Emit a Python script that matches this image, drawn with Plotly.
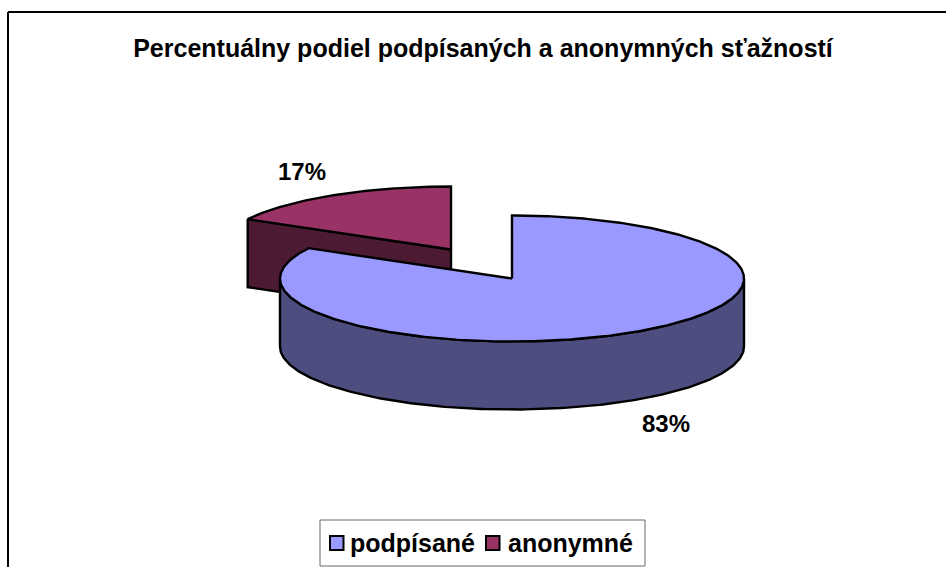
import numpy as np
import plotly.graph_objects as go

categories = ["podpísané", "anonymné"]
values = [83, 17]
top_colors = ["#9999FF", "#993366"]
wall_colors = ["#4D4D80", "#4D1A33"]
title_text = "Percentuálny podiel podpísaných a anonymných sťažností"

W, H = 946, 567
RX, RY, DEPTH = 232, 63, 68
MAIN_C = (512, 278.5)
EXPL_C = (451, 249.5)
LINE = dict(color="black", width=2)
PIE_LINE = dict(color="black", width=2.4)
FONT = "Liberation Sans, Arial, sans-serif"

total = sum(values)
split = 360.0 * values[0] / total


def rim(c, a0, a1, n=200):
    t = np.radians(np.linspace(a0, a1, n))
    return c[0] + RX * np.sin(t), c[1] - RY * np.cos(t)


def poly(x, y, color, name):
    return go.Scatter(x=list(x), y=list(y), mode="lines", fill="toself", fillcolor=color,
                      line=PIE_LINE, showlegend=False, hoverinfo="skip", name=name)


fig = go.Figure()

# exploded slice (second category): cut face, then top
ex, ey = rim(EXPL_C, split, 360)
fig.add_trace(poly(
    [ex[0], EXPL_C[0], EXPL_C[0], ex[0], ex[0]],
    [ey[0], EXPL_C[1], EXPL_C[1] + DEPTH, ey[0] + DEPTH, ey[0]],
    wall_colors[1], categories[1]))
fig.add_trace(poly(np.r_[EXPL_C[0], ex, EXPL_C[0]], np.r_[EXPL_C[1], ey, EXPL_C[1]], top_colors[1], categories[1]))

# main slice (first category): front wall, then top
wx, wy = rim(MAIN_C, 90, 270)
fig.add_trace(poly(np.r_[wx, wx[::-1], wx[0]], np.r_[wy, wy[::-1] + DEPTH, wy[0]], wall_colors[0], categories[0]))
mx, my = rim(MAIN_C, 0, split, n=400)
fig.add_trace(poly(np.r_[MAIN_C[0], mx, MAIN_C[0]], np.r_[MAIN_C[1], my, MAIN_C[1]], top_colors[0], categories[0]))

# percentage labels
label_pos = [(666, 423), (302, 171)]
for v, (lx, ly) in zip(values, label_pos):
    fig.add_annotation(x=lx, y=ly, text=f"<b>{round(100 * v / total)}%</b>", showarrow=False,
                       font=dict(family=FONT, size=24, color="black"))

shapes = [
    dict(type="line", x0=8, y0=12, x1=W, y1=12, line=LINE),
    dict(type="line", x0=8, y0=12, x1=8, y1=H, line=LINE),
    dict(type="rect", x0=320, y0=520, x1=645, y1=566, fillcolor="white", line=dict(color="#666666", width=1)),
]

# hand-placed legend, laid out the way the reference spaces it
legend_swatch_x = [330, 486]
legend_text_x = [350, 508]
for name, color, sx, tx in zip(categories, top_colors, legend_swatch_x, legend_text_x):
    shapes.append(dict(type="rect", x0=sx, y0=536, x1=sx + 13.5, y1=550, fillcolor=color,
                       line=LINE))
    fig.add_annotation(x=tx, y=543, text=f"<b>{name}</b>", showarrow=False, xanchor="left",
                       xshift=-2, font=dict(family=FONT, size=25, color="black"))

fig.update_layout(
    width=W, height=H, margin=dict(l=0, r=0, t=0, b=0), showlegend=False,
    paper_bgcolor="white", plot_bgcolor="white",
    title=dict(text=f"<b>{title_text}</b>", x=483 / W, xanchor="center", y=1 - 48.5 / H, yanchor="middle",
               font=dict(family=FONT, size=25, color="black")),
    xaxis=dict(range=[0, W], visible=False, fixedrange=True),
    yaxis=dict(range=[H, 0], visible=False, fixedrange=True),
    shapes=shapes,
)
fig.write_html("out.html", config=dict(displayModeBar=False),
               post_script="document.body.style.margin='0';document.documentElement.style.overflow='hidden';")
